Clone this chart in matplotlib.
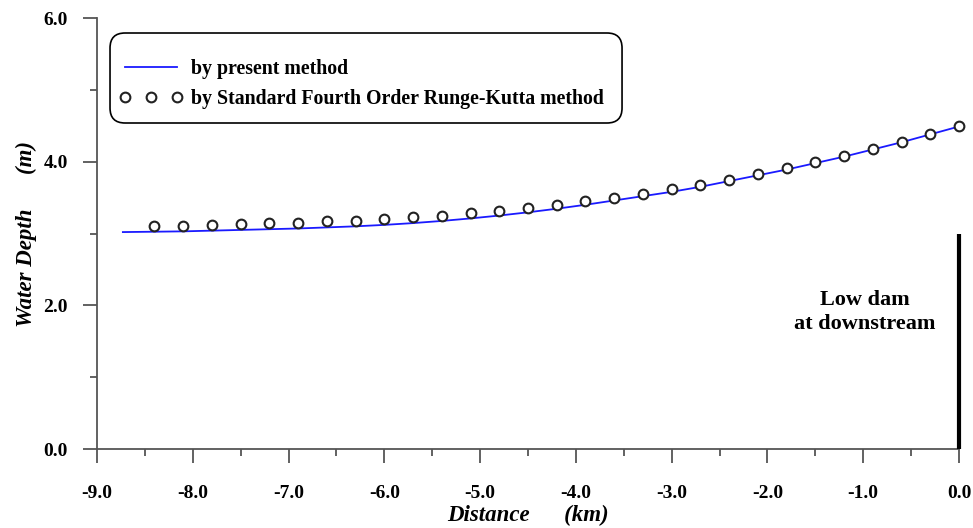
import matplotlib.pyplot as plt
from matplotlib.patches import FancyBboxPatch
from matplotlib.ticker import MultipleLocator

plt.rcParams['font.family'] = ['Liberation Serif', 'DejaVu Serif']

# --- Data ---
# Standard fourth order Runge-Kutta (circles)
x_rk = [-8.4, -8.1, -7.8, -7.5, -7.2, -6.9, -6.6, -6.3, -6.0, -5.7,
        -5.4, -5.1, -4.8, -4.5, -4.2, -3.9, -3.6, -3.3, -3.0, -2.7,
        -2.4, -2.1, -1.8, -1.5, -1.2, -0.9, -0.6, -0.3, 0.0]
y_rk = [3.10, 3.11, 3.12, 3.13, 3.14, 3.15, 3.17, 3.18, 3.20, 3.23,
        3.25, 3.28, 3.31, 3.36, 3.40, 3.45, 3.50, 3.55, 3.62, 3.68,
        3.75, 3.83, 3.91, 4.00, 4.08, 4.18, 4.28, 4.39, 4.49]

# present method (blue line)
x_pm = [-8.73, -8.4, -8.1, -7.8, -7.5, -7.2, -6.9, -6.6, -6.3, -6.0,
        -5.7, -5.4, -5.1, -4.8, -4.5, -4.2, -3.9, -3.6, -3.3, -3.0,
        -2.7, -2.4, -2.1, -1.8, -1.5, -1.2, -0.9, -0.6, -0.3, 0.0]
y_pm = [3.02, 3.025, 3.03, 3.04, 3.05, 3.06, 3.07, 3.085, 3.10, 3.12,
        3.145, 3.175, 3.21, 3.25, 3.295, 3.345, 3.40, 3.46, 3.52, 3.58,
        3.65, 3.73, 3.81, 3.89, 3.98, 4.07, 4.17, 4.27, 4.38, 4.49]

dam_x = 0.0
dam_height = 3.0

x_ticks = [-9.0, -8.0, -7.0, -6.0, -5.0, -4.0, -3.0, -2.0, -1.0, 0.0]
y_ticks = [0.0, 2.0, 4.0, 6.0]

# --- Figure ---
fig = plt.figure(figsize=(9.73, 5.28), dpi=100)
ax = fig.add_axes([0.0997, 0.1496, 0.8859, 0.8163])

ax.plot(x_pm, y_pm, color='#1a1aff', linewidth=1.3, label='by present method',
        clip_on=False, zorder=2)
ax.plot(x_rk, y_rk, linestyle='none', marker='o', markersize=7,
        markerfacecolor='white', markeredgecolor='#222222', markeredgewidth=1.5,
        label='by Standard Fourth Order Runge-Kutta method', clip_on=False, zorder=3)
ax.vlines(dam_x, 0, dam_height, color='black', linewidth=3, clip_on=False, zorder=4)

ax.text(-0.98, 1.91, 'Low dam\nat downstream', ha='center', va='center',
        multialignment='center', fontsize=16, fontweight='bold', linespacing=1.3)

ax.set_xlim(-9.0, 0.0)
ax.set_ylim(0.0, 6.0)
ax.set_xticks(x_ticks)
ax.set_xticklabels([f'{v:.1f}' for v in x_ticks])
ax.set_yticks(y_ticks)
ax.set_yticklabels([f'{v:.1f}' for v in y_ticks])
ax.xaxis.set_minor_locator(MultipleLocator(0.5))
ax.yaxis.set_minor_locator(MultipleLocator(1.0))

for side in ['top', 'right']:
    ax.spines[side].set_visible(False)
for side in ['left', 'bottom']:
    ax.spines[side].set_color('#555555')
    ax.spines[side].set_linewidth(1.3)

ax.tick_params(which='major', direction='out', length=10, width=1.3, color='#555555',
               labelsize=14)
ax.tick_params(which='minor', direction='out', length=5, width=1.3, color='#555555')
ax.tick_params(axis='x', which='major', pad=16)
ax.tick_params(axis='y', which='major', pad=11)
for lab in ax.get_xticklabels() + ax.get_yticklabels():
    lab.set_fontweight('bold')

ax.set_xlabel('Distance      (km)', fontsize=16.5, fontweight='bold', fontstyle='italic')
ax.set_ylabel('Water Depth      (m)', fontsize=16.5, fontweight='bold', fontstyle='italic')
ax.xaxis.set_label_coords(0.5, -0.13)
ax.yaxis.set_label_coords(-0.07, 0.5)

# legend entries without frame, frame drawn as rounded box behind them
leg = ax.legend(loc='center left', bbox_to_anchor=(0.0255, 0.846), borderaxespad=0,
                numpoints=3, prop={'weight': 'bold', 'size': 14.3},
                frameon=False, handlelength=3.23, handletextpad=0.38,
                borderpad=0, labelspacing=0.5)
box = FancyBboxPatch((0.0151, 0.7564), 0.594, 0.2088, transform=ax.transAxes,
                     boxstyle='round,pad=0,rounding_size=0.0174', mutation_aspect=2,
                     facecolor='white', edgecolor='black', linewidth=1.2, zorder=5)
ax.add_patch(box)
leg.set_zorder(6)

fig.savefig('out.png', dpi=100)
